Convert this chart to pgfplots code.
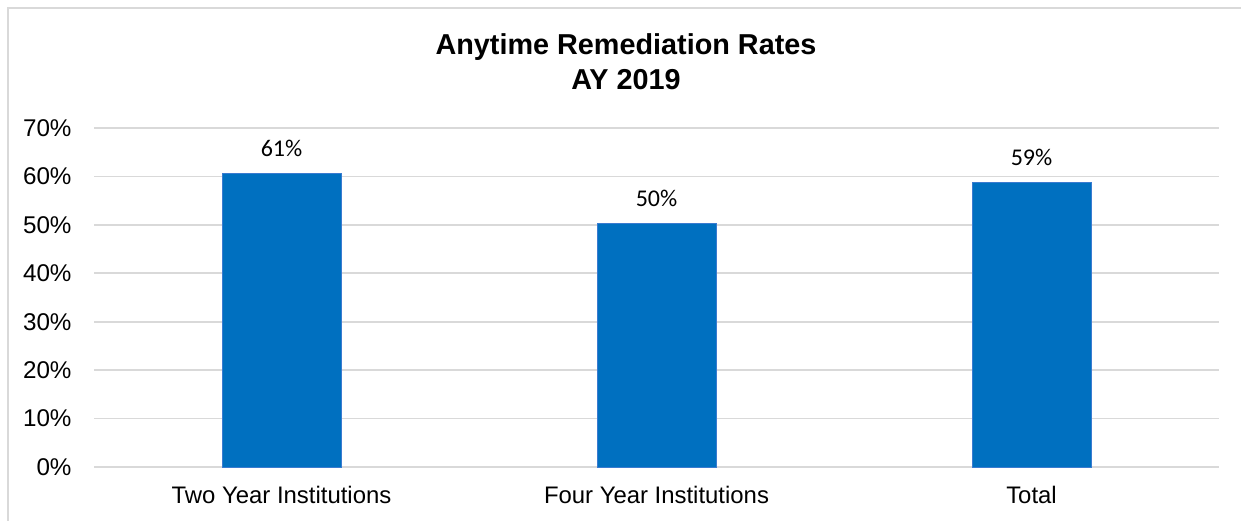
\documentclass[border=0pt]{standalone}
\usepackage{pgfplots}
\pgfplotsset{compat=1.18}
\usepackage{fontspec}
\setmainfont{Liberation Sans}
\newfontfamily\calib{Carlito}
\definecolor{barblue}{HTML}{0070C0}
\definecolor{baredge}{HTML}{3A7BD0}
\definecolor{gridgray}{HTML}{D9D9D9}

\begin{document}
\begin{tikzpicture}[x=1pt,y=1pt]
  \path[use as bounding box] (0,0) rectangle (1241,-520);
  % chart frame (only top and left edges visible)
  \draw[gridgray, line width=2pt] (8,-522) -- (8,-8) -- (1243,-8);

  % title
  \node[anchor=base, font=\fontsize{28.8}{34}\selectfont\bfseries] at (626,-54.3) {Anytime Remediation Rates};
  \node[anchor=base, font=\fontsize{28.8}{34}\selectfont\bfseries] at (626,-89.3) {AY 2019};

  \begin{axis}[
      at={(94pt,-467pt)}, anchor=south west,
      scale only axis, width=1125pt, height=339pt,
      xmin=-0.5, xmax=2.5, ymin=0, ymax=70,
      xtick=data,
      xticklabels={Two Year Institutions, Four Year Institutions, Total},
      ytick={0,10,...,70},
      yticklabel={\pgfmathprintnumber{\tick}\%},
      /pgf/number format/assume math mode=true,
      major tick length=0pt,
      axis line style={draw=none},
      ymajorgrids, major grid style={gridgray, line width=1.6pt},
      xticklabel style={font=\fontsize{23.9}{26}\selectfont, anchor=base, inner sep=0pt, yshift=-36.3pt},
      yticklabel style={font=\fontsize{24.2}{26}\selectfont, anchor=base east, inner sep=0pt, xshift=-22.3pt, yshift=-8.3pt},
      ybar, bar width=119pt,
      point meta=explicit symbolic,
      nodes near coords,
      every node near coord/.append style={font=\calib\fontsize{24}{26}\selectfont, anchor=base, inner sep=0pt, yshift=17.3pt},
    ]
    \addplot[fill=barblue, draw=baredge, line width=0.8pt] coordinates {
      (0,60.6) [61\%]
      (1,50.2) [50\%]
      (2,58.7) [59\%]
    };
  \end{axis}
\end{tikzpicture}
\end{document}
